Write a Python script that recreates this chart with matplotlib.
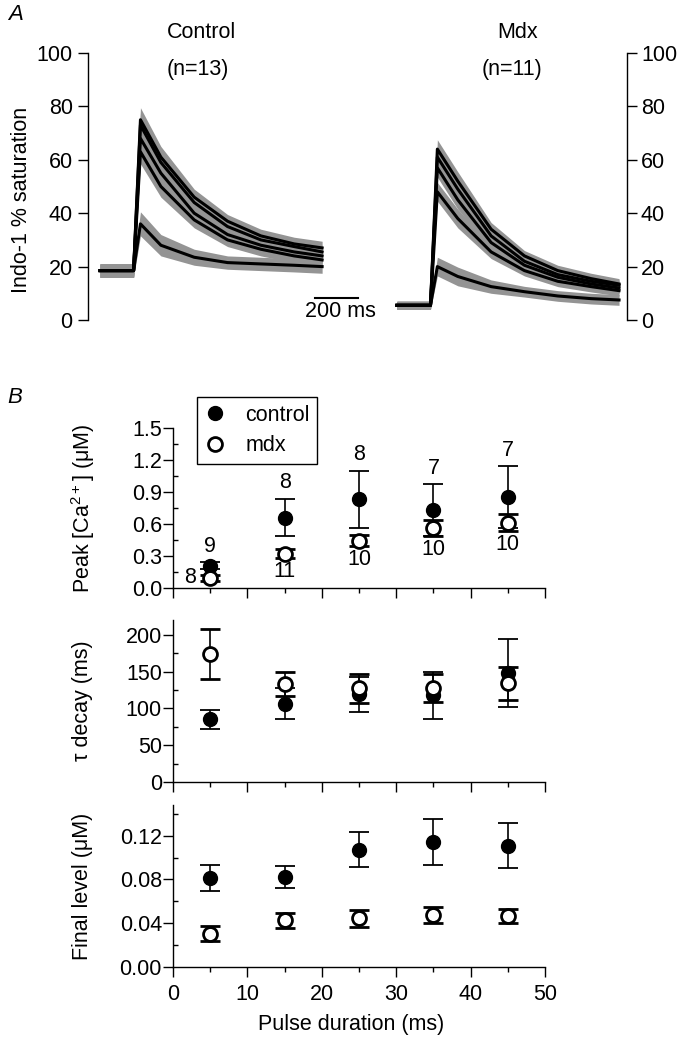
import matplotlib
matplotlib.use('Agg')
import numpy as np
import matplotlib.pyplot as plt
from matplotlib.ticker import MultipleLocator

plt.rcParams['font.family'] = ['Liberation Sans', 'DejaVu Sans']
plt.rcParams['mathtext.default'] = 'regular'
plt.rcParams['font.size'] = 15.5
plt.rcParams['axes.linewidth'] = 1.0

# --- A: mean Indo-1 traces (% saturation), time relative to stimulus (ms)
trace_t = [-158, -2, 30, 125, 280, 435, 590, 745, 875]
ctrl_5ms = [18.5, 18.5, 36, 28, 23.5, 21.5, 21, 20.5, 20]
ctrl_15ms = [18.5, 18.5, 63, 50, 37.5, 30, 26.5, 24, 22.5]
ctrl_25ms = [18.5, 18.5, 68, 55, 40, 32, 28, 25.5, 24]
ctrl_35ms = [18.5, 18.5, 73, 59, 44, 35, 30, 27.5, 25.5]
ctrl_45ms = [18.5, 18.5, 75, 61, 46, 37, 31.5, 28.5, 27]
ctrl_sem = [2.5, 2.5, 4.5, 4, 3, 2.5, 2.5, 2.5, 2.5]

mdx_5ms = [5.5, 5.5, 20, 16.3, 12.5, 10.6, 9, 8, 7.5]
mdx_15ms = [5.5, 5.5, 48, 38, 25.5, 18.5, 14.5, 12.5, 11]
mdx_25ms = [5.5, 5.5, 57, 45, 29, 20.5, 16, 13.5, 12]
mdx_35ms = [5.5, 5.5, 61, 49, 31.5, 22, 17, 14.5, 13]
mdx_45ms = [5.5, 5.5, 64, 52, 34, 24, 18.5, 15.5, 13.5]
mdx_sem = [1.5, 1.5, 3.5, 3.5, 2.5, 2, 2, 2, 2]

scale_bar_ms = 200

# --- B: summary vs pulse duration
pulse = [5, 15, 25, 35, 45]
peak_ctrl = [0.21, 0.66, 0.83, 0.73, 0.85]
peak_ctrl_err = [0.03, 0.175, 0.27, 0.245, 0.29]
peak_mdx = [0.095, 0.32, 0.445, 0.56, 0.61]
peak_mdx_err = [0.03, 0.043, 0.055, 0.077, 0.08]
peak_ctrl_n = [9, 8, 8, 7, 7]
peak_mdx_n = [8, 11, 10, 10, 10]

tau_ctrl = [85, 106, 119, 118, 148]
tau_ctrl_err = [12.5, 21, 24, 32, 46]
tau_mdx = [174, 133, 127, 128, 134]
tau_mdx_err = [34, 16, 20, 19, 22]

final_ctrl = [0.081, 0.082, 0.107, 0.114, 0.111]
final_ctrl_err = [0.012, 0.010, 0.016, 0.021, 0.021]
final_mdx = [0.0305, 0.0426, 0.0445, 0.0475, 0.0463]
final_mdx_err = [0.007, 0.0066, 0.0075, 0.007, 0.0065]

W, H = 689, 1042
fig = plt.figure(figsize=(W / 100, H / 100), dpi=100)


def px_axes(left, top, right, bottom):
    return fig.add_axes([left / W, 1 - bottom / H, (right - left) / W, (bottom - top) / H])


# ---------------- panel A
axA = px_axes(88, 53, 627, 320)
axA.set_xlim(0, 2507)
axA.set_ylim(0, 100)
for s in ['top', 'bottom', 'right']:
    axA.spines[s].set_visible(False)
axA.set_xticks([])
axA.set_yticks([0, 20, 40, 60, 80, 100])
axA.tick_params(axis='y', direction='out', length=7, width=1, pad=4)
axA.set_ylabel('Indo-1 % saturation', va='center')
axA.yaxis.set_label_coords(-0.123, 0.45)

axR = axA.twinx()
axR.set_ylim(0, 100)
for s in ['top', 'bottom', 'left']:
    axR.spines[s].set_visible(False)
axR.set_yticks([0, 20, 40, 60, 80, 100])
axR.tick_params(axis='y', direction='out', length=7, width=1, pad=3)

groups = [
    (56, [ctrl_5ms, ctrl_15ms, ctrl_25ms, ctrl_35ms, ctrl_45ms], ctrl_sem),
    (1437, [mdx_5ms, mdx_15ms, mdx_25ms, mdx_35ms, mdx_45ms], mdx_sem),
]
for start, traces, sem in groups:
    x = np.array(trace_t) - trace_t[0] + start
    s = np.array(sem)
    for tr in traces:
        v = np.array(tr)
        axA.fill_between(x, v - s, v + s, color='0.58', lw=0)
    for tr in traces:
        axA.plot(x, tr, color='k', lw=2.2)

# scale bar
bar_x0 = 1056
axA.plot([bar_x0, bar_x0 + scale_bar_ms], [8.2, 8.2], color='k', lw=1.5, clip_on=False)
axA.text(bar_x0 + scale_bar_ms / 2 + 20, 3, f'{scale_bar_ms} ms', ha='center', va='center')

fig.text(202 / W, 1 - 33 / H, 'Control', ha='center', va='center')
fig.text(198 / W, 1 - 70 / H, '(n=13)', ha='center', va='center')
fig.text(518 / W, 1 - 33 / H, 'Mdx', ha='center', va='center')
fig.text(512 / W, 1 - 70 / H, '(n=11)', ha='center', va='center')
fig.text(16 / W, 1 - 15 / H, 'A', ha='center', va='center', style='italic', fontsize=16)
fig.text(15 / W, 1 - 398 / H, 'B', ha='center', va='center', style='italic', fontsize=16)

# ---------------- panel B
axP = px_axes(173, 428, 545, 588)
axT = px_axes(173, 620, 545, 782)
axF = px_axes(173, 805, 545, 967)

eb_kw = dict(fmt='o', color='k', ms=10, capsize=7.5, capthick=1.3, elinewidth=1.2)

def draw_pair(ax, c, ce, m, me):
    h1 = ax.errorbar(pulse, c, yerr=ce, mfc='k', mec='k', **eb_kw)
    h2 = ax.errorbar(pulse, m, yerr=me, mfc='white', mec='k', mew=2, **eb_kw)
    return h1, h2

hc, hm = draw_pair(axP, peak_ctrl, peak_ctrl_err, peak_mdx, peak_mdx_err)
draw_pair(axT, tau_ctrl, tau_ctrl_err, tau_mdx, tau_mdx_err)
draw_pair(axF, final_ctrl, final_ctrl_err, final_mdx, final_mdx_err)

axP.set_ylim(0, 1.5)
axP.yaxis.set_major_locator(MultipleLocator(0.3))
axP.yaxis.set_minor_locator(MultipleLocator(0.15))
axP.yaxis.set_major_formatter(plt.FormatStrFormatter('%.1f'))
axT.set_ylim(0, 220)
axT.yaxis.set_major_locator(MultipleLocator(50))
axT.yaxis.set_minor_locator(MultipleLocator(25))
axF.set_ylim(0, 0.148)
axF.yaxis.set_major_locator(MultipleLocator(0.04))
axF.yaxis.set_minor_locator(MultipleLocator(0.02))
axF.yaxis.set_major_formatter(plt.FormatStrFormatter('%.2f'))

for ax in (axP, axT, axF):
    ax.set_xlim(0, 50)
    ax.xaxis.set_major_locator(MultipleLocator(10))
    ax.xaxis.set_minor_locator(MultipleLocator(5))
    ax.spines['top'].set_visible(False)
    ax.spines['right'].set_visible(False)
    ax.tick_params(which='major', direction='out', length=7, width=1)
    ax.tick_params(axis='y', which='major', pad=1)
    ax.tick_params(axis='y', which='minor', direction='in', length=3.5, width=1)
    ax.tick_params(axis='x', which='minor', direction='out', length=3.5, width=1)
    if ax is not axF:
        ax.tick_params(axis='x', labelbottom=False)

axF.tick_params(axis='x', pad=5)

# n labels
for i, x in enumerate(pulse):
    axP.annotate(str(peak_ctrl_n[i]), (x, peak_ctrl[i] + peak_ctrl_err[i]),
                 xytext=(0, 11.5), textcoords='offset points', ha='center', va='center')
    if i == 0:
        axP.annotate(str(peak_mdx_n[i]), (x, peak_mdx[i]),
                     xytext=(-14.5, 0), textcoords='offset points', ha='center', va='center')
    else:
        axP.annotate(str(peak_mdx_n[i]), (x, peak_mdx[i] - peak_mdx_err[i]),
                     xytext=(0, -9.5), textcoords='offset points', ha='center', va='center')

axP.set_ylabel('Peak [Ca$^{2+}$] (μM)', va='center')
axT.set_ylabel('τ decay (ms)', va='center')
axF.set_ylabel('Final level (μM)', va='center')
for ax in (axP, axT, axF):
    ax.yaxis.set_label_coords(-0.242, 0.5)
axF.set_xlabel('Pulse duration (ms)', va='center')
axF.xaxis.set_label_coords(0.478, -0.358)

axP.legend([hc[0], hm[0]], ['control', 'mdx'], loc='upper left',
           bbox_to_anchor=(197 / W, 1 - 397 / H), bbox_transform=fig.transFigure,
           borderaxespad=0, fancybox=False, edgecolor='k', framealpha=1,
           borderpad=0.35, handlelength=1.0, handletextpad=0.9, labelspacing=0.45)
axP.get_legend().get_frame().set_linewidth(1.0)

fig.savefig('out.png', dpi=100)
